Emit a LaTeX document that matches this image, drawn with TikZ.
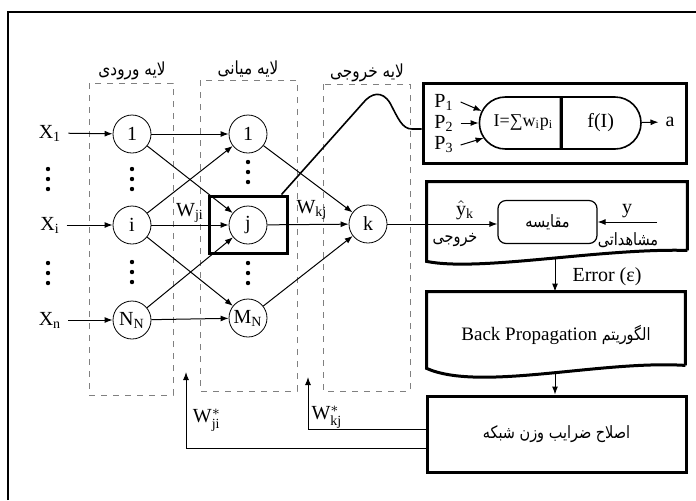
\documentclass[tikz,border=0pt]{standalone}
\usepackage{fontspec}
\setmainfont{Liberation Serif}
\newfontfamily\arabicfont[Script=Arabic, FakeStretch=0.85]{DejaVu Sans}
\TeXXeTstate=1
\usepackage{tikz}
\usetikzlibrary{positioning,calc,arrows.meta,shapes.misc}
\newcommand{\fa}[1]{{\arabicfont\beginR #1\endR}}

\begin{document}
\begin{tikzpicture}[x=0.5pt, y=-0.5pt,
	every node/.style={font=\fontsize{10}{12}\selectfont},
	neuron/.style={draw, circle, minimum size=19pt, inner sep=0pt},
	arr/.style={-{Latex[length=4pt,width=3pt]}, line width=0.5pt},
	layerbox/.style={draw=gray, dashed, line width=0.4pt},
	boldbox/.style={line width=1.5pt},
	fatext/.style={font=\fontsize{8.5}{10}\selectfont},
	fahead/.style={font=\fontsize{9}{11}\selectfont}]
		\useasboundingbox (0,0) rectangle (696,500);
		\draw[line width=1pt] (8,500) -- (8,12) -- (696,12);
		
		% layers
		\draw[layerbox] (89,83) rectangle (173,395);
		\draw[layerbox] (200,80) rectangle (297,391);
		\draw[layerbox] (323,84) rectangle (410,391);
		\node[fahead] (hin) at (132,71) {\fa{لایه ورودی}};
		\node[fahead] (hmid) at (248,69) {\fa{لایه میانی}};
		\node[fahead] (hout) at (367,73) {\fa{لایه خروجی}};
		
		\node[neuron] (in1) at (132,134) {1};
		\node[neuron] (ini) at (132,225) {i};
		\node[neuron] (inN) at (132,320) {$\mathrm{N_N}$};
		\node[neuron] (h1) at (248,134) {1};
		\node[neuron] (hj) at (248,225) {j};
		\node[neuron] (hM) at (248,318) {$\mathrm{M_N}$};
		\node[neuron] (k) at (368,224) {k};
		
		\node (x1) at (50,133) {$\mathrm{X_1}$};
		\node (xi) at (50,225) {$\mathrm{X_i}$};
		\node (xn) at (50,320) {$\mathrm{X_n}$};
		
		\foreach \x/\y in {48/179, 48/273, 132/179, 132/272, 248/172, 248/273}
			\foreach \d in {-10,0,10}
				\fill (\x,\y+\d) circle[radius=1.1pt];
		
		\foreach \a/\b in {x1/in1, xi/ini, xn/inN, in1/h1, in1/hj, ini/h1, ini/hj, ini/hM, inN/hj, inN/hM, h1/k, hj/k, hM/k}
			\draw[arr] (\a) -- (\b);
		
		\node[draw, boldbox, minimum width=39pt, minimum height=28.5pt, inner sep=0pt] (jbox) at (248,224.5) {};
		\node (wji) at (190,213) {$\mathrm{W_{ji}}$};
		\node (wkj) at (312,210) {$\mathrm{W_{kj}}$};
		
		% neuron model
		\node[draw, boldbox, minimum width=131.5pt, minimum height=40pt, inner sep=0pt] (neur) at (554.5,123) {};
		\node[draw, rounded rectangle, rounded rectangle east arc=none, minimum width=40.5pt, minimum height=26pt, inner sep=0pt, line width=0.8pt, font=\fontsize{9}{11}\selectfont] (sum) at (520.5,123) {\hspace{3pt}I=∑w\textsubscript{i}p\textsubscript{i}};
		\node[draw, rounded rectangle, rounded rectangle west arc=none, minimum width=39.5pt, minimum height=26pt, inner sep=0pt, line width=0.8pt, right=0pt of sum] (act) {f(I)};
		\node (p1) at (444,102) {$\mathrm{P_1}$};
		\node (p2) at (444,123) {$\mathrm{P_2}$};
		\node (p3) at (444,145) {$\mathrm{P_3}$};
		\draw[arr] (p1.east) -- ($(sum.west)+(3,-12)$);
		\draw[arr] (p2) -- (sum);
		\draw[arr] (p3.east) -- ($(sum.west)+(5,15)$);
		\node (aout) at (670,122) {a};
		\draw[arr] (act) -- (aout);
		
		\coordinate (jtop) at ($(jbox.north east)+(-7,0)$);
		\draw[line width=0.8pt] (jtop) -- (363,103) .. controls (371,93) and (382,90) .. (390,103) .. controls (398,118) and (402,129) .. (412,129) -- ($(neur.west)+(0,6)$);
		
		% comparison
		\node[minimum width=130pt, minimum height=40pt, inner sep=0pt] (cmpdoc) at (557,222) {};
		\draw[boldbox] ($(cmpdoc.south east)+(0,-12)$) -- (cmpdoc.north east) -- (cmpdoc.north west) -- ($(cmpdoc.south west)+(0,-1)$) .. controls (480,272) and (600,248) .. ($(cmpdoc.south east)+(0,-12)$);
		\node[draw, rounded corners=4pt, minimum width=49.5pt, minimum height=21.5pt, line width=0.6pt, fatext] (cmp) at (547.5,222) {\fa{مقایسه}};
		\node (yhat) at (465,210) {$\hat{\mathrm{y}}_{\mathrm{k}}$};
		\node[fatext] (outfa) at (455,240) {\fa{خروجی}};
		\node (yobs) at (627,211) {y};
		\node[fatext] (obsfa) at (628,240) {\fa{مشاهداتی}};
		\coordinate (yin) at (657,222);
		\draw[arr] (k) -- (k -| cmp.west);
		\draw[arr] (yin) -- (yin -| cmp.east);
		
		% back propagation
		\node[minimum width=129pt, minimum height=43pt, inner sep=0pt, font=\fontsize{9.5}{12}\selectfont] (bp) at (556,335) {\beginR{\arabicfont\fontsize{8.5}{10}\selectfont الگوریتم} \beginL Back Propagation\endL\endR};
		\draw[boldbox] ($(bp.south east)+(0,-13)$) -- (bp.north east) -- (bp.north west) -- ($(bp.south west)+(0,-10)$) .. controls (480,392) and (600,360) .. ($(bp.south east)+(0,-13)$);
		\coordinate (errtop) at (555,259);
		\draw[arr] (errtop) -- (errtop |- bp.north);
		\node (err) at (607,277) {Error (ε)};
		
		% weight update
		\node[draw, boldbox, minimum width=129.5pt, minimum height=38pt, inner sep=0pt, fatext] (fix) at (556.5,434) {\fa{اصلاح ضرایب وزن شبکه}};
		\coordinate (bpbot) at (555,372);
		\draw[arr] (bpbot) -- (bpbot |- fix.north);
		\coordinate (wkjtip) at (308,377);
		\coordinate (wjitip) at (186,372);
		\draw[arr] ($(fix.west)+(0,-5)$) -| (wkjtip);
		\draw[arr] ($(fix.west)+(0,14)$) -| (wjitip);
		\node (wkjs) at (327,417) {$\mathrm{W}^{*}_{\mathrm{kj}}$};
		\node (wjis) at (207,420) {$\mathrm{W}^{*}_{\mathrm{ji}}$};
	\end{tikzpicture}
\end{document}
